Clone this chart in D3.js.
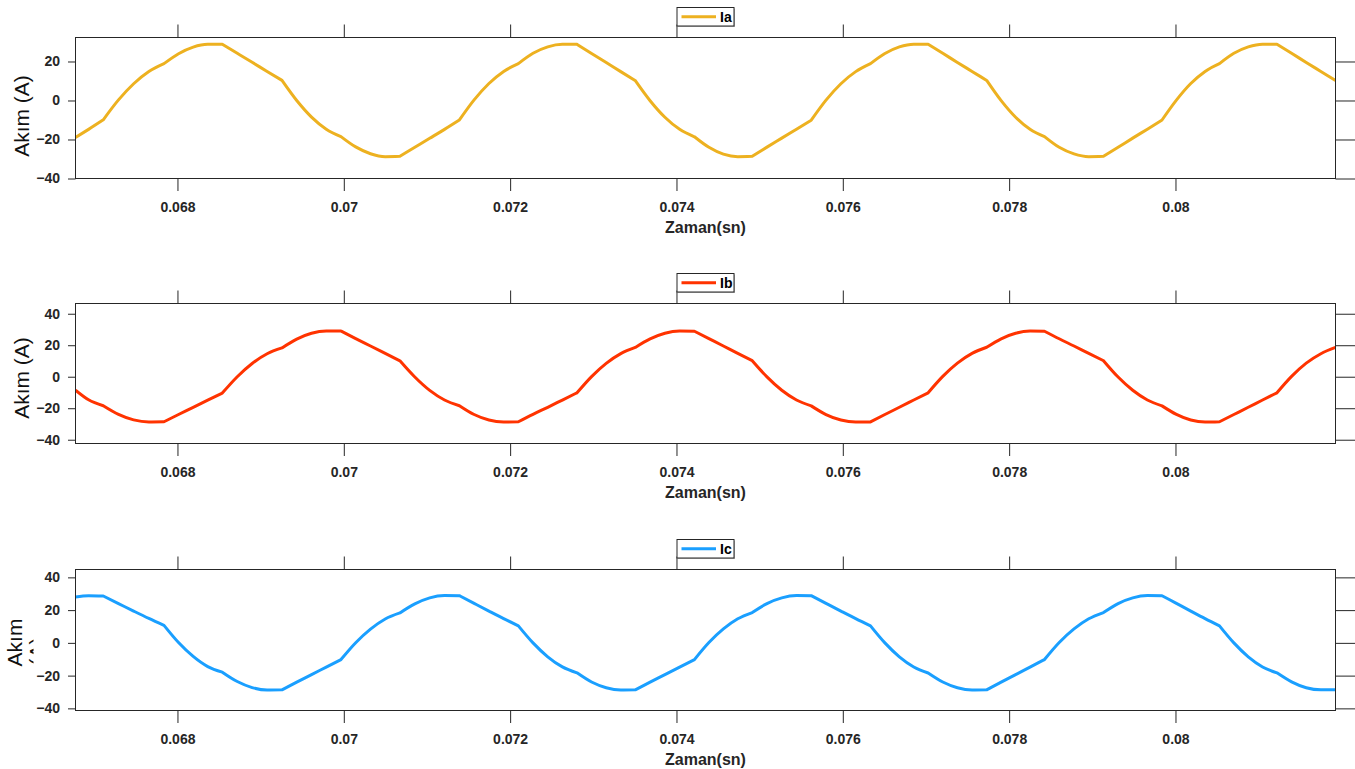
<!DOCTYPE html>
<html>
<head>
<meta charset="utf-8">
<script src="https://cdn.jsdelivr.net/npm/d3@7"></script>
<style>
  body { margin: 0; background: #fff; }
  svg { display: block; font-family: "Liberation Sans", Arial, sans-serif; }
</style>
</head>
<body>
<svg id="grafik" width="1355" height="769"></svg>
<script>
// Zaman ekseni (sn) - okunan örnek noktaları
const zaman = [
  0.066774, 0.066931,
  0.067108, 0.067291, 0.067473, 0.067656,
  0.067838, 0.068013, 0.068189, 0.068364,
  0.068539, 0.068719, 0.068898, 0.069078,
  0.069257, 0.069434, 0.069612, 0.069789,
  0.069966, 0.070143, 0.070321, 0.070498,
  0.070675, 0.070854, 0.071033, 0.071211,
  0.071390, 0.071567, 0.071745, 0.071922,
  0.072099, 0.072275, 0.072452, 0.072628,
  0.072804, 0.072979, 0.073155, 0.073330,
  0.073505, 0.073683, 0.073861, 0.074038,
  0.074216, 0.074390, 0.074564, 0.074737,
  0.074911, 0.075088, 0.075266, 0.075443,
  0.075620, 0.075798, 0.075977, 0.076155,
  0.076333, 0.076506, 0.076680, 0.076853,
  0.077026, 0.077202, 0.077378, 0.077554,
  0.077730, 0.077904, 0.078078, 0.078251,
  0.078425, 0.078602, 0.078780, 0.078957,
  0.079134, 0.079310, 0.079486, 0.079662,
  0.079838, 0.080011, 0.080184, 0.080356,
  0.080529, 0.080702, 0.080875, 0.081047,
  0.081220, 0.081396, 0.081572, 0.081748,
  0.081924
];

// Faz akımları (A)
const ia = [
  -19.0, -14.8,
  -9.9, 0.3, 8.6, 14.9,
  18.9, 24.0, 27.4, 28.8,
  28.8, 24.2, 19.6, 14.9,
  10.3, 0.0, -8.5, -14.7,
  -18.5, -23.8, -27.3, -28.8,
  -28.6, -24.0, -19.4, -14.8,
  -10.0, 0.3, 8.7, 14.9,
  18.9, 24.2, 27.5, 28.8,
  28.8, 24.1, 19.5, 14.8,
  10.2, -0.1, -8.6, -14.8,
  -18.6, -24.0, -27.5, -28.8,
  -28.6, -23.9, -19.3, -14.7,
  -10.1, 0.2, 8.6, 14.8,
  18.9, 24.1, 27.5, 28.9,
  28.8, 24.2, 19.5, 14.9,
  10.3, -0.1, -8.6, -14.7,
  -18.5, -24.0, -27.4, -28.8,
  -28.6, -24.0, -19.3, -14.7,
  -10.0, 0.2, 8.7, 14.9,
  18.9, 24.2, 27.5, 28.9,
  28.8, 24.2, 19.5, 14.9,
  10.3
];

const ib = [
  -8.5, -14.6,
  -18.4, -23.9, -27.4, -28.7,
  -28.6, -24.0, -19.5, -14.9,
  -10.4, 0.0, 8.4, 14.6,
  18.3, 23.9, 27.6, 29.0,
  29.0, 24.2, 19.5, 14.8,
  10.1, -0.2, -8.7, -14.8,
  -18.4, -24.0, -27.5, -28.7,
  -28.6, -23.9, -19.4, -14.8,
  -10.2, 0.1, 8.5, 14.7,
  18.6, 24.0, 27.6, 29.0,
  28.9, 24.2, 19.5, 14.8,
  10.2, -0.1, -8.6, -14.8,
  -18.5, -24.0, -27.5, -28.8,
  -28.7, -24.0, -19.4, -14.8,
  -10.2, 0.2, 8.6, 14.8,
  18.7, 24.1, 27.6, 29.0,
  28.9, 24.1, 19.5, 14.8,
  10.2, -0.2, -8.6, -14.8,
  -18.5, -23.9, -27.5, -28.8,
  -28.6, -24.0, -19.4, -14.8,
  -10.2, 0.2, 8.6, 14.6,
  18.6
];

const ic = [
  28.0, 28.8,
  28.6, 24.0, 19.4, 14.9,
  10.7, 0.2, -8.3, -14.5,
  -17.9, -23.6, -27.3, -28.8,
  -28.7, -24.0, -19.4, -14.8,
  -10.2, 0.1, 8.4, 14.6,
  18.3, 23.8, 27.5, 28.9,
  28.8, 24.1, 19.4, 14.8,
  10.4, 0.0, -8.5, -14.7,
  -18.3, -23.9, -27.4, -28.8,
  -28.7, -24.0, -19.4, -14.8,
  -10.2, 0.2, 8.5, 14.7,
  18.5, 24.0, 27.5, 28.9,
  28.8, 24.1, 19.4, 14.8,
  10.4, 0.0, -8.5, -14.7,
  -18.4, -23.9, -27.4, -28.8,
  -28.7, -24.0, -19.4, -14.8,
  -10.2, 0.2, 8.5, 14.7,
  18.5, 24.0, 27.5, 28.9,
  28.8, 24.1, 19.4, 14.8,
  10.4, 0.0, -8.5, -14.7,
  -18.3, -23.8, -27.4, -28.7,
  -28.6
];

const xTicks = [0.068, 0.07, 0.072, 0.074, 0.076, 0.078, 0.08];
const yTicksA = [-40, -20, 0, 20];
const yTicksBC = [-40, -20, 0, 20, 40];
const xDomain = [0.066774, 0.081924];

const renkA = "#EDB120", renkB = "#FF3300", renkC = "#1A9FFF";
const eksenRenk = "#262626";

const sol = 75.5, sag = 1335.5;

// anahtarlama anları: 2. noktadan başlayıp her 4 noktada bir kırılma var
const ilkKirilma = 2, kirilmaAdimi = 4;

const paneller = [
  { ad: "Ia", veri: ia, renk: renkA, ust: 37.5, alt: 178.5, yDomain: [-40, 32.3], yTicks: yTicksA, etiketY: 116, lejantY: 7.5 },
  { ad: "Ib", veri: ib, renk: renkB, ust: 303.5, alt: 443.5, yDomain: [-42.4, 46.5], yTicks: yTicksBC, etiketY: 378, lejantY: 273.5 },
  { ad: "Ic", veri: ic, renk: renkC, ust: 569.5, alt: 710.5, yDomain: [-41.3, 44.8], yTicks: yTicksBC, etiketY: 642.5, lejantY: 539.5, kirpik: true }
];

const svg = d3.select("#grafik");
svg.append("rect").attr("width", 1355).attr("height", 769).attr("fill", "#fff");

const x = d3.scaleLinear().domain(xDomain).range([sol, sag]);

const eksenStil = (g) => {
  g.select(".domain").remove();
  g.selectAll(".tick line").attr("stroke", eksenRenk);
  g.selectAll(".tick text")
    .attr("fill", eksenRenk)
    .style("font-size", "14px")
    .style("font-weight", "bold");
};

// Noktaları kırılma anlarında parçalara böl, her parça kendi içinde yumuşak
const parcala = (noktalar) => {
  const sinirlar = [0];
  for (let k = ilkKirilma; k < noktalar.length - 1; k += kirilmaAdimi) sinirlar.push(k);
  sinirlar.push(noktalar.length - 1);
  const parcalar = [];
  for (let s = 0; s < sinirlar.length - 1; s++) {
    parcalar.push(noktalar.slice(sinirlar[s], sinirlar[s + 1] + 1));
  }
  return parcalar;
};

paneller.forEach((p, i) => {
  const y = d3.scaleLinear().domain(p.yDomain).range([p.alt, p.ust]);
  const g = svg.append("g");

  g.append("clipPath").attr("id", "kirp" + i)
    .append("rect")
    .attr("x", sol).attr("y", p.ust)
    .attr("width", sag - sol).attr("height", p.alt - p.ust);

  const noktalar = zaman.map((t, j) => [t, p.veri[j]]);
  const cizgi = d3.line()
    .x(d => x(d[0]))
    .y(d => y(d[1]))
    .curve(d3.curveMonotoneX);

  // parçaları tek yol halinde birleştir (köşeler keskin kalsın)
  const yol = parcala(noktalar)
    .map((parca, n) => n === 0 ? cizgi(parca) : "L" + cizgi(parca).slice(1))
    .join("");

  g.append("path")
    .attr("clip-path", `url(#kirp${i})`)
    .attr("fill", "none")
    .attr("stroke", p.renk)
    .attr("stroke-width", 3)
    .attr("stroke-linejoin", "round")
    .attr("d", yol);

  // Eksenler
  g.append("g").attr("transform", `translate(0,${p.alt})`)
    .call(d3.axisBottom(x).tickValues(xTicks).tickSize(12.5).tickPadding(10.8)
      .tickFormat(d => String(+d.toFixed(3))))
    .call(eksenStil);

  g.append("g").attr("transform", `translate(0,${p.ust})`)
    .call(d3.axisTop(x).tickValues(xTicks).tickSize(13).tickFormat(""))
    .call(eksenStil);

  g.append("g").attr("transform", `translate(${sol},0)`)
    .call(d3.axisLeft(y).tickValues(p.yTicks).tickSize(7.5).tickPadding(8))
    .call(eksenStil);

  g.append("g").attr("transform", `translate(${sag},0)`)
    .call(d3.axisRight(y).tickValues(p.yTicks).tickSize(20).tickFormat(""))
    .call(eksenStil);

  g.append("rect")
    .attr("x", sol).attr("y", p.ust)
    .attr("width", sag - sol).attr("height", p.alt - p.ust)
    .attr("fill", "none")
    .attr("stroke", eksenRenk)
    .attr("stroke-width", 1);

  // Eksen başlıkları
  g.append("text")
    .attr("x", (sol + sag) / 2).attr("y", p.alt + 54.3)
    .attr("text-anchor", "middle")
    .attr("fill", eksenRenk)
    .style("font-size", "16px").style("font-weight", "bold")
    .text("Zaman(sn)");

  if (!p.kirpik) {
    g.append("text")
      .attr("transform", `translate(29,${p.etiketY}) rotate(-90)`)
      .attr("text-anchor", "middle")
      .attr("fill", "#111")
      .style("font-size", "21px")
      .text("Akım (A)");
  } else {
    // Son panelde etiket iki satıra bölünmüş, ikinci satır kırpılmış
    g.append("text")
      .attr("transform", `translate(22,${p.etiketY}) rotate(-90)`)
      .attr("text-anchor", "middle")
      .attr("fill", "#111")
      .style("font-size", "21px")
      .text("Akım");
    g.append("clipPath").attr("id", "etiketKirp")
      .append("rect").attr("x", 0).attr("y", p.ust).attr("width", 33.5).attr("height", p.alt - p.ust);
    g.append("g")
      .attr("clip-path", "url(#etiketKirp)")
      .append("text")
      .attr("transform", `translate(44,${p.etiketY + 9}) rotate(-90)`)
      .attr("text-anchor", "middle")
      .attr("fill", "#111")
      .style("font-size", "21px")
      .text("(A)");
  }

  // Lejant
  const lx = 677, lw = 57, lh = 18.5;
  const lej = g.append("g");
  lej.append("rect")
    .attr("x", lx + 1).attr("y", p.lejantY + 1)
    .attr("width", lw).attr("height", lh)
    .attr("fill", "#b5b5b5");
  lej.append("rect")
    .attr("x", lx).attr("y", p.lejantY)
    .attr("width", lw).attr("height", lh)
    .attr("fill", "#fff")
    .attr("stroke", eksenRenk)
    .attr("stroke-width", 1);
  const ly = p.lejantY + lh / 2;
  lej.append("line")
    .attr("x1", lx + 4.5).attr("x2", lx + 39)
    .attr("y1", ly).attr("y2", ly)
    .attr("stroke", p.renk).attr("stroke-width", 3);
  lej.append("text")
    .attr("x", lx + 43).attr("y", ly + 5)
    .attr("fill", "#000")
    .style("font-size", "14px").style("font-weight", "bold")
    .text(p.ad);
});
</script>
</body>
</html>
